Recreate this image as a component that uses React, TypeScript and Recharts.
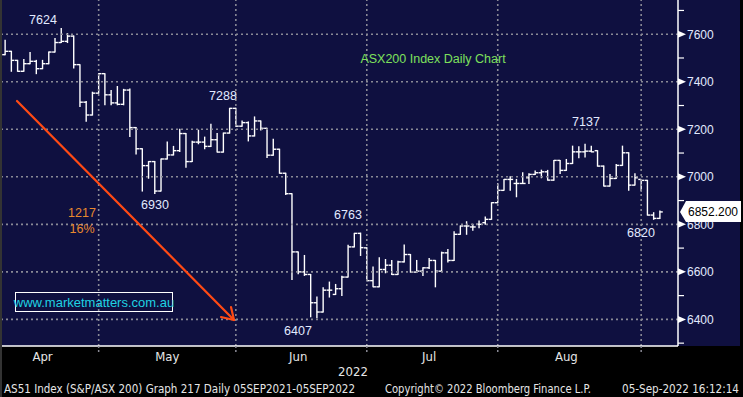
import { Bar, ComposedChart, ReferenceLine, XAxis, YAxis } from 'recharts';

// ASX200 daily bars, Apr 2022 - 05 Sep 2022
const OPEN = [
  7514, 7528, 7490, 7444, 7476, 7486, 7455, 7476, 7525, 7565, 7570, 7592, 7472, 7314, 7260, 7352,
  7434, 7345, 7311, 7305, 7365, 7207, 7118, 7047, 7064, 6940, 7075, 7092, 7110, 7182, 7064, 7146,
  7146, 7128, 7156, 7104, 7184, 7288, 7213, 7228, 7172, 7235, 7204, 7091, 7116, 7015, 6929, 6684,
  6600, 6589, 6470, 6431, 6523, 6505, 6529, 6578, 6705, 6762, 6701, 6563, 6537, 6610, 6628, 6589,
  6642, 6673, 6599, 6603, 6617, 6648, 6603, 6680, 6648, 6758, 6793, 6789, 6800, 6807, 6821, 6891,
  6943, 6989, 6972, 6972, 6996, 7010, 7017, 7021, 6986, 7069, 7027, 7056, 7105, 7105, 7108, 7110,
  7045, 6961, 6993, 7048, 7101, 6965, 6989, 6985, 6839, 6825,
];
const HIGH = [
  7575, 7528, 7490, 7494, 7523, 7490, 7490, 7525, 7582, 7624, 7603, 7592, 7472, 7317, 7356, 7434,
  7434, 7363, 7380, 7368, 7370, 7207, 7118, 7064, 7064, 7075, 7146, 7128, 7200, 7182, 7150, 7196,
  7167, 7221, 7182, 7184, 7288, 7288, 7235, 7231, 7252, 7235, 7204, 7158, 7116, 7015, 6929, 6684,
  6669, 6589, 6494, 6533, 6557, 6547, 6582, 6712, 6762, 6763, 6701, 6620, 6659, 6652, 6648, 6645,
  6713, 6673, 6648, 6617, 6656, 6648, 6683, 6694, 6769, 6793, 6811, 6800, 6814, 6831, 6891, 6971,
  6989, 7000, 6989, 7017, 7013, 7024, 7028, 7027, 7069, 7069, 7073, 7129, 7126, 7137, 7129, 7110,
  7045, 7010, 7052, 7129, 7101, 7013, 6989, 6985, 6849, 6856,
];
const LOW = [
  7514, 7444, 7444, 7444, 7476, 7434, 7455, 7476, 7525, 7565, 7565, 7458, 7296, 7234, 7260, 7352,
  7303, 7303, 7303, 7303, 7170, 7096, 6940, 6994, 6930, 6940, 7075, 7092, 7107, 7040, 7064, 7139,
  7118, 7128, 7104, 7104, 7184, 7213, 7213, 7151, 7172, 7197, 7081, 7091, 7015, 6926, 6568, 6592,
  6585, 6411, 6407, 6431, 6494, 6505, 6501, 6578, 6705, 6669, 6563, 6537, 6537, 6596, 6589, 6589,
  6642, 6599, 6599, 6585, 6614, 6537, 6603, 6641, 6648, 6758, 6758, 6775, 6786, 6800, 6821, 6891,
  6943, 6943, 6916, 6972, 6972, 7010, 6996, 6986, 6986, 7014, 7027, 7056, 7080, 7083, 7105, 7045,
  6961, 6961, 6993, 7048, 6943, 6965, 6940, 6839, 6821, 6825,
];
const CLOSE = [
  7528, 7490, 7444, 7476, 7486, 7455, 7476, 7525, 7565, 7570, 7592, 7472, 7314, 7260, 7352, 7434,
  7345, 7311, 7305, 7365, 7207, 7118, 7047, 7064, 6940, 7075, 7092, 7110, 7182, 7064, 7146, 7146,
  7128, 7156, 7104, 7184, 7288, 7213, 7228, 7172, 7235, 7204, 7091, 7116, 7015, 6929, 6684, 6600,
  6589, 6470, 6431, 6523, 6523, 6529, 6578, 6705, 6762, 6702, 6563, 6537, 6610, 6628, 6589, 6642,
  6673, 6599, 6603, 6617, 6648, 6603, 6680, 6648, 6758, 6793, 6793, 6789, 6800, 6821, 6891, 6943,
  6989, 6989, 6972, 6972, 7010, 7017, 7021, 6986, 7069, 7027, 7056, 7105, 7105, 7108, 7105, 7045,
  6961, 6993, 7048, 7101, 6965, 6996, 6985, 6839, 6825, 6852.2,
];

const MONTH_LABELS = ['Apr', 'May', 'Jun', 'Jul', 'Aug'];
const MONTH_LABEL_AT = [6, 26, 47, 68, 90]; // bar index under each month name
const MONTH_STARTS = [15, 37, 58, 79, 102]; // first bar of May, Jun, Jul, Aug, Sep
const PRICE_TICKS = [6300, 6400, 6500, 6600, 6700, 6800, 6900, 7000, 7100, 7200, 7300, 7400, 7500, 7600, 7700];
const GRID_LEVELS = [6400, 6600, 6800, 7000, 7200, 7400, 7600];
const LAST_PRICE = '6852.200';

const PEAK_NOTES = [
  { text: '7624', x: 43, y: 19 },
  { text: '7288', x: 223, y: 95 },
  { text: '6930', x: 155, y: 204 },
  { text: '6763', x: 348, y: 214 },
  { text: '6407', x: 298, y: 330 },
  { text: '7137', x: 586, y: 121 },
  { text: '6820', x: 641, y: 232 },
];

const bars = OPEN.map((o, i) => ({
  i,
  o,
  h: HIGH[i],
  l: LOW[i],
  c: CLOSE[i],
  range: [LOW[i], HIGH[i]],
}));

const NAVY = '#0f1040';
const GRID = '#8a8a96';
const LABEL_BLUE = '#e2eaff';
const SANS = '"Liberation Sans", Arial, sans-serif';
const NARROW = '"Liberation Sans Narrow", "DejaVu Sans Condensed", sans-serif';

function OhlcBar(props: any) {
  const { x, y, width, height, payload } = props;
  if (payload == null) return null;
  const top = Math.min(y, y + height);
  const bottom = Math.max(y, y + height);
  const span = payload.h - payload.l;
  const ppu = span > 0 ? (bottom - top) / span : 0;
  const openY = top + (payload.h - payload.o) * ppu;
  const closeY = top + (payload.h - payload.c) * ppu;
  const cx = x + width / 2;
  const arm = width / 2 + 0.4;
  return (
    <g stroke="#ffffff" strokeWidth={1.4}>
      <line x1={cx} x2={cx} y1={top - 0.5} y2={bottom + 0.5} />
      <line x1={cx - arm} x2={cx} y1={openY} y2={openY} />
      <line x1={cx} x2={cx + arm} y1={closeY} y2={closeY} />
    </g>
  );
}

function PriceTick({ x, y, payload }: any) {
  const v = payload.value;
  if (v % 200 !== 0) {
    return <line x1={x} x2={x + 6} y1={y} y2={y} stroke="#ffffff" strokeWidth={1.2} />;
  }
  return (
    <g>
      <polygon points={`${x},${y - 3.5} ${x + 8},${y} ${x},${y + 3.5}`} fill="#ffffff" />
      <text x={x + 9} y={y} dy="0.36em" fill={LABEL_BLUE} fontSize={12} fontFamily={SANS}>
        {v}
      </text>
    </g>
  );
}

function MonthTick({ x, y, payload }: any) {
  const idx = MONTH_LABEL_AT.indexOf(payload.value);
  if (idx >= 0) {
    return (
      <text x={x} y={y + 10} dy="0.36em" textAnchor="middle" fill="#e6e6e6" fontSize={13} fontFamily={NARROW}>
        {MONTH_LABELS[idx]}
      </text>
    );
  }
  return <line x1={x} x2={x} y1={y} y2={y + 7} stroke={GRID} strokeWidth={1.5} strokeDasharray="2 2" />;
}

export default function App() {
  return (
    <div style={{ position: 'absolute', left: 0, top: 0, width: 743, height: 397, background: '#000' }}>
      <div style={{ position: 'absolute', left: 2, top: 0, width: 738, height: 346, background: NAVY }} />
      <div style={{ position: 'absolute', left: 0, top: 0, width: 2, height: 397, background: '#333' }} />
      <div style={{ position: 'absolute', left: 0, top: 0 }}>
        <ComposedChart width={743} height={397} data={bars} margin={{ top: 0, right: 0, bottom: 0, left: 2 }}>
          {GRID_LEVELS.map((v) => (
            <ReferenceLine key={v} y={v} stroke={GRID} strokeWidth={1.6} strokeDasharray="2 3" />
          ))}
          {MONTH_STARTS.map((m) => (
            <ReferenceLine key={m} x={m} stroke={GRID} strokeWidth={1.6} strokeDasharray="2 3" />
          ))}
          <XAxis
            dataKey="i"
            type="category"
            height={51}
            padding={{ left: 0, right: 15 }}
            ticks={[...MONTH_STARTS, ...MONTH_LABEL_AT]}
            interval={0}
            tick={<MonthTick />}
            tickLine={false}
            tickSize={0}
            tickMargin={0}
            axisLine={{ stroke: '#ffffff', strokeWidth: 1.5 }}
          />
          <YAxis
            orientation="right"
            width={65}
            domain={[6288, 7744]}
            allowDataOverflow
            ticks={PRICE_TICKS}
            interval={0}
            tick={<PriceTick />}
            tickLine={false}
            tickSize={0}
            tickMargin={0}
            axisLine={{ stroke: '#ffffff', strokeWidth: 1.5 }}
          />
          <Bar dataKey="range" shape={<OhlcBar />} isAnimationActive={false} />
        </ComposedChart>
      </div>
      <svg width={743} height={397} style={{ position: 'absolute', left: 0, top: 0, pointerEvents: 'none' }}>
        {PEAK_NOTES.map((n) => (
          <text key={n.text} x={n.x} y={n.y} dy="0.36em" textAnchor="middle" fill={LABEL_BLUE} fontSize={12.5} fontFamily={SANS}>
            {n.text}
          </text>
        ))}
        <text x={433} y={58} dy="0.36em" textAnchor="middle" fill="#7ee05c" fontSize={12.5} fontFamily={SANS}>
          ASX200 Index Daily Chart
        </text>
        <text x={82} y={212} dy="0.36em" textAnchor="middle" fill="#e8892e" fontSize={12.5} fontFamily={SANS}>
          1217
        </text>
        <text x={82} y={228} dy="0.36em" textAnchor="middle" fill="#e8892e" fontSize={12.5} fontFamily={SANS}>
          16%
        </text>
        <g stroke="#ff4a14" strokeWidth={2.2} strokeLinecap="round">
          <line x1={17} y1={101} x2={234} y2={320} />
          <line x1={234} y1={320} x2={221} y2={317} />
          <line x1={234} y1={320} x2={231} y2={307} />
        </g>
        <rect x={15.5} y={292.5} width={157} height={19} fill="none" stroke="#ffffff" strokeWidth={1} />
        <text x={94} y={302} dy="0.36em" textAnchor="middle" fill="#1fd2e2" fontSize={13} fontFamily={SANS}>
          www.marketmatters.com.au
        </text>
        <polygon points="680,212 686,201 741,201 741,222 686,222" fill="#ffffff" />
        <text x={713} y={212} dy="0.36em" textAnchor="middle" fill="#000" fontSize={12} fontFamily={SANS}>
          {LAST_PRICE}
        </text>
        <text x={353} y={371} dy="0.36em" textAnchor="middle" fill="#e6e6e6" fontSize={13} fontFamily={NARROW}>
          2022
        </text>
        <g fill="#e6e6e6" fontSize={12} fontFamily={NARROW}>
          <text x={4} y={389} dy="0.36em" textLength={351} lengthAdjust="spacingAndGlyphs">
            AS51 Index (S&amp;P/ASX 200) Graph 217  Daily 05SEP2021-05SEP2022
          </text>
          <text x={385} y={389} dy="0.36em" textLength={206} lengthAdjust="spacingAndGlyphs">
            Copyright© 2022 Bloomberg Finance L.P.
          </text>
          <text x={622} y={389} dy="0.36em" textLength={117} lengthAdjust="spacingAndGlyphs">
            05-Sep-2022 16:12:14
          </text>
        </g>
      </svg>
    </div>
  );
}
